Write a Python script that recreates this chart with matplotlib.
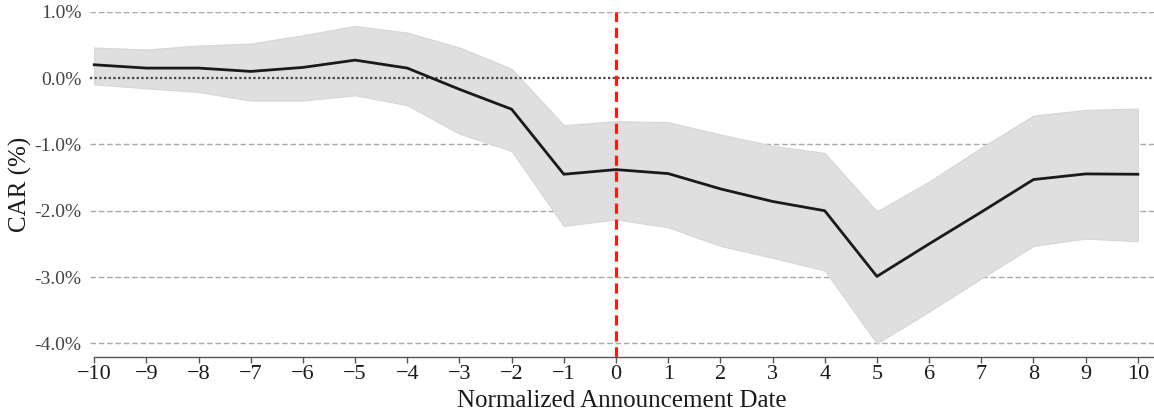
import matplotlib
matplotlib.use("Agg")
import matplotlib.pyplot as plt
import numpy as np

# ---- data ----
days = [-10, -9, -8, -7, -6, -5, -4, -3, -2, -1, 0, 1, 2, 3, 4, 5, 6, 7, 8, 9, 10]
car_mean = [0.20, 0.15, 0.15, 0.10, 0.16, 0.27, 0.15, -0.17, -0.47, -1.45, -1.38, -1.44,
            -1.67, -1.86, -2.00, -2.99, -2.50, -2.02, -1.53, -1.445, -1.45]
car_upper = [0.46, 0.43, 0.49, 0.52, 0.645, 0.785, 0.685, 0.46, 0.14, -0.71, -0.65, -0.665,
             -0.85, -1.02, -1.13, -2.01, -1.56, -1.05, -0.565, -0.48, -0.46]
car_lower = [-0.095, -0.155, -0.21, -0.34, -0.34, -0.26, -0.41, -0.84, -1.10, -2.23, -2.13, -2.25,
             -2.53, -2.71, -2.90, -4.00, -3.52, -3.02, -2.53, -2.42, -2.46]
ytick_values = [1.0, 0.0, -1.0, -2.0, -3.0, -4.0]
ytick_labels = ["1.0%", "0.0%", "-1.0%", "-2.0%", "-3.0%", "-4.0%"]
xtick_values = list(range(-10, 11))
event_day = 0

plt.rcParams['font.family'] = ['Liberation Serif', 'DejaVu Serif']

fig = plt.figure(figsize=(11.54, 4.13), dpi=100)
ax = fig.add_axes([0.078, 0.1363, 0.922, 0.8354])

# grid lines at y ticks
for v in ytick_values:
    if v == 0:
        continue
    ax.axhline(v, color='#a8a8a8', lw=1.0, linestyle=(0, (4, 2)), zorder=0)

ax.fill_between(days, car_lower, car_upper, facecolor='#dfdfdf', edgecolor='#d6d6d6',
                lw=0.8, zorder=1)
ax.axhline(0, color='#444444', lw=1.6, linestyle=(0, (1, 1.1)), zorder=2)
ax.plot(days, car_mean, color='#1a1a1a', lw=2.0, zorder=3)
ax.axvline(event_day, color='#ff1a1a', lw=2.3, linestyle=(0, (3.2, 1.8)), zorder=4)

ax.set_xlim(-10.08, 10.31)
ax.set_ylim(-4.2, 1.0)

ax.set_xticks(xtick_values)
ax.set_yticks(ytick_values)
ax.set_yticklabels(ytick_labels)

for s in ['top', 'right', 'left']:
    ax.spines[s].set_visible(False)
ax.spines['bottom'].set_color('#555555')
ax.spines['bottom'].set_linewidth(1.0)
ax.spines['bottom'].set_bounds(-10, 10.31)

ax.tick_params(axis='x', direction='out', length=4, width=1.0, color='#555555',
               labelsize=16, labelcolor='#1a1a1a', pad=2)
ax.tick_params(axis='y', length=0, labelsize=14, labelcolor='#444444', pad=6)

ax.set_xlabel('Normalized Announcement Date', fontsize=18, color='#1a1a1a', labelpad=4)
ax.set_ylabel('CAR (%)', fontsize=18, color='#1a1a1a')
ax.yaxis.set_label_coords(-0.0545, 0.5)

fig.savefig('out.png', dpi=100)
